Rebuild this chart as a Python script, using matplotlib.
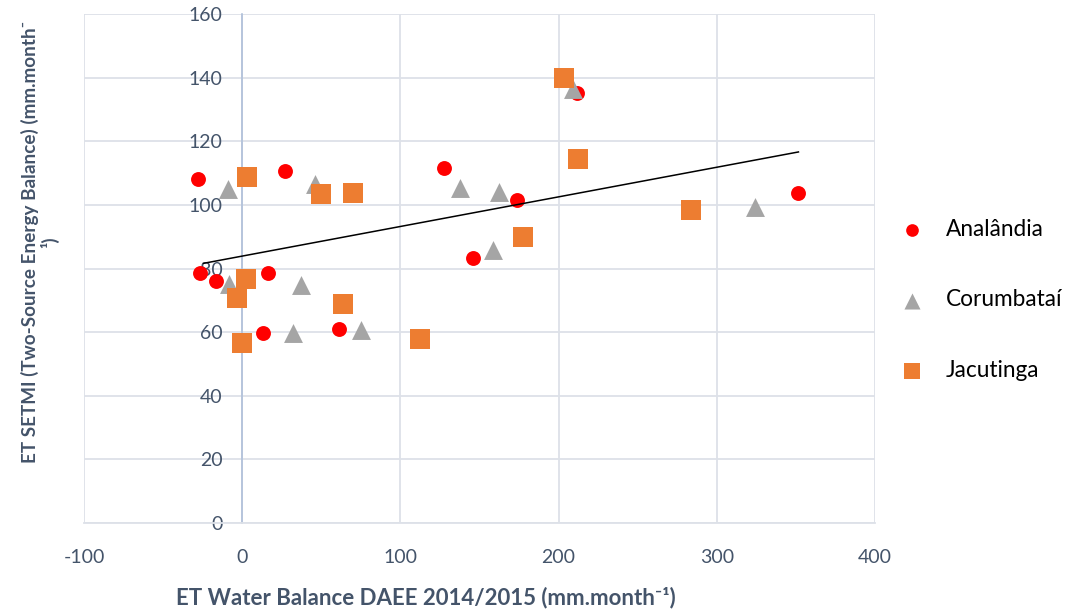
import numpy as np
import matplotlib
matplotlib.use("Agg")
import matplotlib.pyplot as plt

plt.rcParams["font.family"] = ["Lato", "DejaVu Sans"]
plt.rcParams["axes.unicode_minus"] = False

# Analândia (red circles)
analandia_x = [-28.0, 27.2, -26.5, -16.4, 16.6, 12.9, 60.9, 127.7, 146.2, 173.6, 211.6, 351.3]
analandia_y = [108.1, 110.7, 78.7, 76.1, 78.5, 59.8, 61.0, 111.7, 83.4, 101.5, 135.1, 103.6]

# Corumbataí (grey triangles)
corumbatai_x = [-9.1, 46.0, -8.2, 37.1, 32.0, 75.0, 137.4, 158.5, 162.5, 209.4, 324.0]
corumbatai_y = [105.0, 106.5, 75.0, 74.8, 59.6, 60.7, 105.2, 85.8, 104.2, 136.3, 99.4]

# Jacutinga (orange squares)
jacutinga_x = [3.0, 49.7, 70.2, 2.5, -3.4, -0.4, 63.6, 112.7, 203.3, 212.4, 177.4, 284.0]
jacutinga_y = [108.9, 103.3, 103.8, 76.6, 70.6, 56.7, 68.8, 57.9, 140.0, 114.4, 89.8, 98.4]

# trend line
trend_slope = 0.0931
trend_intercept = 83.9
trend_range = [-24.5, 351.6]

x_ticks = [-100, 0, 100, 200, 300, 400]
y_ticks = [0, 20, 40, 60, 80, 100, 120, 140, 160]

label_color = "#44546A"
grid_color = "#DDE1E8"

fig = plt.figure(figsize=(10.75, 6.11), dpi=100)
ax = fig.add_axes([84 / 1075, 1 - 523 / 611, (875 - 84) / 1075, (523 - 14) / 611])

ax.set_xlim(-100, 400)
ax.set_ylim(0, 160)
ax.set_xticks(x_ticks)
ax.set_yticks(y_ticks)
ax.grid(True, color=grid_color, linewidth=1.3)
ax.set_axisbelow(True)

for side in ["top", "right"]:
    ax.spines[side].set_visible(False)
ax.spines["bottom"].set_color(grid_color)
ax.spines["bottom"].set_linewidth(1.3)
ax.spines["left"].set_position(("data", 0))
ax.spines["left"].set_color("#AFC0DA")
ax.spines["left"].set_linewidth(1.2)

ax.tick_params(axis="both", length=0, labelsize=14, labelcolor=label_color)
ax.tick_params(axis="x", pad=19)
ax.tick_params(axis="y", pad=14)

ax.scatter(analandia_x, analandia_y, marker="o", s=115, color="#FF0000",
           linewidths=0, label="Analândia", zorder=3)
ax.scatter(corumbatai_x, corumbatai_y, marker="^", s=185, color="#A5A5A5",
           linewidths=0, label="Corumbataí", zorder=3)
ax.scatter(jacutinga_x, jacutinga_y, marker="s", s=200, color="#ED7D31",
           linewidths=0, label="Jacutinga", zorder=3)

line_x = np.array(trend_range)
ax.plot(line_x, trend_intercept + trend_slope * line_x, color="black",
        linewidth=1.1, zorder=4)

fig.text(426 / 1075, 1 - 598 / 611, "ET Water Balance DAEE 2014/2015 (mm.month⁻¹)",
         ha="center", va="center", fontsize=16, fontweight="bold", color=label_color)
fig.text(40 / 1075, 1 - 242 / 611, "ET SETMI (Two-Source Energy Balance) (mm.month⁻\n¹)",
         ha="center", va="center", rotation=90, fontsize=13.6, fontweight="bold",
         color=label_color, linespacing=1.1)

leg = fig.legend(loc="center left", bbox_to_anchor=(880 / 1075, 1 - 300 / 611),
                 frameon=False, fontsize=16.3, labelspacing=2.2, handletextpad=0.5,
                 markerscale=0.85, borderaxespad=0)

fig.savefig("out.png", dpi=100)
